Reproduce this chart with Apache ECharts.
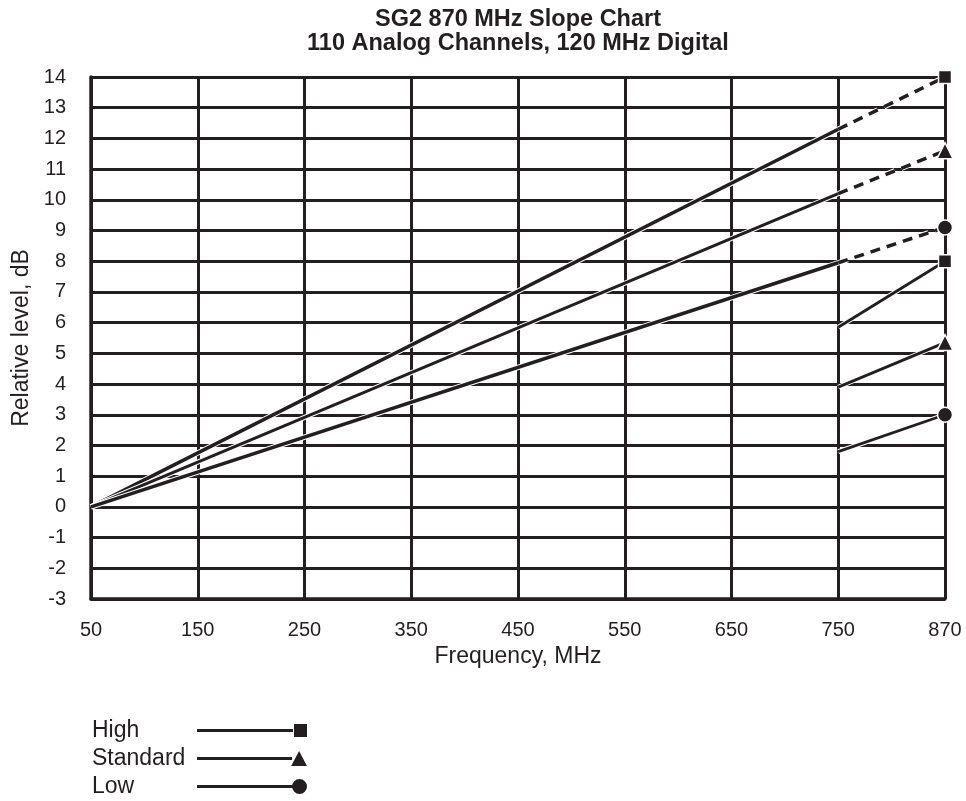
<!DOCTYPE html>
<html><head><meta charset="utf-8">
<script src="https://cdn.jsdelivr.net/npm/echarts@6/dist/echarts.min.js"></script>
<style>html,body{margin:0;padding:0;background:#fff}#c{width:966px;height:801px}</style>
</head><body><div id="c"></div>
<script>
// ---- data ----
const categories = ['50','150','250','350','450','550','650','750','870'];
const levels = ['High','Standard','Low'];
const mainStart50 = [0, 0, 0];          // dB at 50 MHz
const mainEnd750 = [12.3, 10.2, 7.95];  // dB at 750 MHz (solid)
const dashedEnd870 = [14, 11.6, 9.1];   // dB at 870 MHz (dashed extension)
const lowerStart750 = [5.85, 3.9, 1.8]; // lower segment at 750 MHz
const lowerEnd870 = [8.0, 5.35, 3.0];   // lower segment at 870 MHz
const yTicksMin = -3, yTicksMax = 14;

// ---- style ----
const INK = '#231f20';
const FONT = '"Liberation Sans", Arial, sans-serif';
const symbols = ['rect', 'triangle', 'circle'];
const symbolSizes = [13, 16, 15];
const mainWidths = [3.5, 3, 3.5];
const legendIcons = [
  'path://M0,6h96v3H0z M97,1h13v13H97z',
  'path://M0,6h96v3H0z M95,15L103,0L111,15z',
  'path://M0,6h96v3H0z M103,0a7.5,7.5 0 1,1 0,15a7.5,7.5 0 1,1 0,-15z'
];

function seg(name, pts, width, dashed, sym, symSize) {
  const out = [];
  const dash = dashed ? [10, 7] : 'solid';
  out.push({
    type: 'line', name: name + ' halo', silent: true, animation: false,
    symbol: 'none', data: pts,
    lineStyle: { color: '#fff', width: width + 2, type: dash }
  });
  out.push({
    type: 'line', name: name, silent: true, animation: false,
    showSymbol: true, showAllSymbol: true, symbol: 'none',
    data: pts.map((p, i) => (i === pts.length - 1 && sym)
      ? { value: p, symbol: sym, symbolSize: symSize } : { value: p, symbol: 'none' }),
    lineStyle: { color: INK, width: width, type: dash },
    itemStyle: { color: INK, borderColor: '#fff', borderWidth: 1.5 }
  });
  return out;
}

const series = [];
levels.forEach((name, k) => {
  series.push(...seg(name, [[categories[0], mainStart50[k]], ['750', mainEnd750[k]]], mainWidths[k], false, null, 0));
  series.push(...seg(name, [['750', mainEnd750[k]], ['870', dashedEnd870[k]]], 3.5, true, symbols[k], symbolSizes[k]));
  series.push(...seg(name, [['750', lowerStart750[k]], ['870', lowerEnd870[k]]], 2.8, false, symbols[k], symbolSizes[k]));
});

const chart = echarts.init(document.getElementById('c'), null, { renderer: 'canvas' });
chart.setOption({
  animation: false,
  backgroundColor: '#fff',
  title: {
    text: 'SG2 870 MHz Slope Chart\n110 Analog Channels, 120 MHz Digital',
    left: 518, top: 8, textAlign: 'center', padding: 0,
    textStyle: { fontFamily: FONT, fontSize: 23.5, fontWeight: 'bold', color: INK, lineHeight: 24 }
  },
  grid: { left: 91, right: 21, top: 77, bottom: 202, containLabel: false },
  legend: {
    orient: 'vertical', left: 92, top: 719, align: 'right', padding: 0,
    selectedMode: false, itemWidth: 110, itemHeight: 15, itemGap: 5,
    data: levels.map((n, k) => ({ name: n, icon: legendIcons[k] })),
    itemStyle: { color: INK, borderWidth: 0 },
    formatter: n => '{t|' + n + '}',
    textStyle: {
      color: INK, fontFamily: FONT, fontSize: 23,
      rich: { t: { width: 100, align: 'left', fontFamily: FONT, fontSize: 23, color: INK, lineHeight: 27 } }
    }
  },
  xAxis: {
    type: 'category', data: categories, boundaryGap: false,
    name: 'Frequency, MHz', nameLocation: 'middle', nameGap: 38,
    nameTextStyle: { fontFamily: FONT, fontSize: 23, color: INK },
    axisLine: { show: true, onZero: false, lineStyle: { color: INK, width: 3.5 } },
    axisTick: { show: false },
    axisLabel: { interval: 0, margin: 21, fontFamily: FONT, fontSize: 20, color: INK },
    splitLine: { show: true, interval: 0, lineStyle: { color: INK, width: 3 } }
  },
  yAxis: {
    type: 'value', min: yTicksMin, max: yTicksMax, interval: 1,
    name: 'Relative level, dB', nameLocation: 'middle', nameGap: 54,
    nameTextStyle: { fontFamily: FONT, fontSize: 23, color: INK },
    axisLine: { show: true, lineStyle: { color: INK, width: 3.5 } },
    axisTick: { show: false },
    axisLabel: { margin: 25, fontFamily: FONT, fontSize: 20, color: INK },
    splitLine: { show: true, lineStyle: { color: INK, width: 3 } }
  },
  series: series
});
</script></body></html>
